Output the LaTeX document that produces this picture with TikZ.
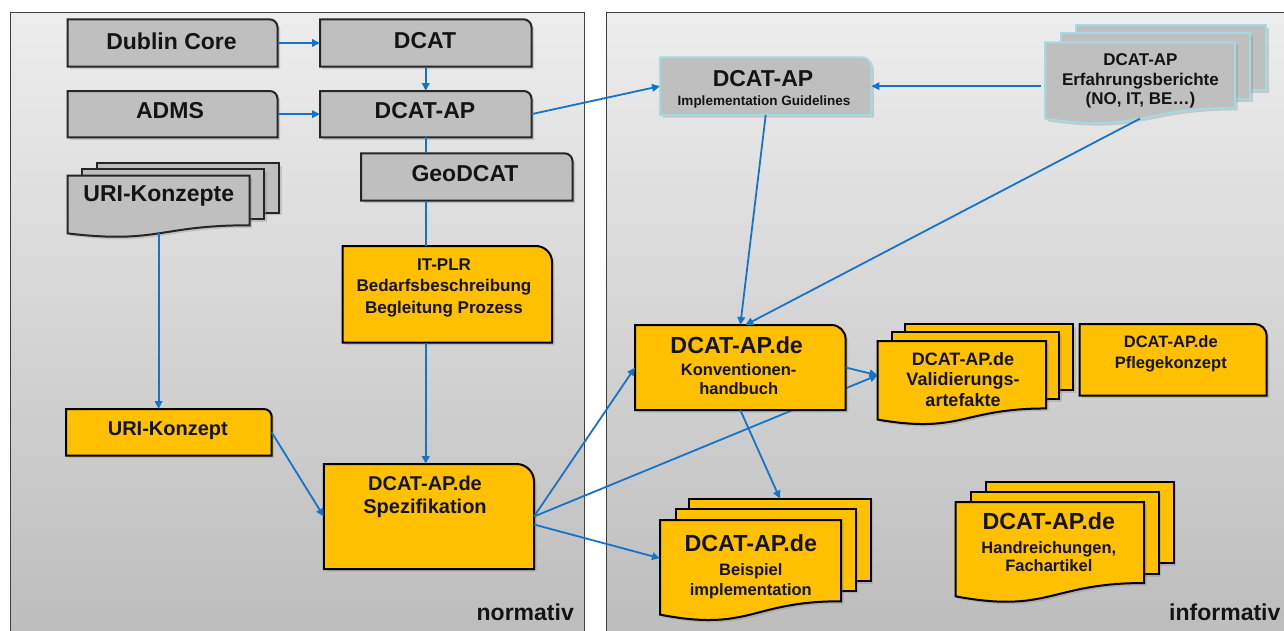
\documentclass[tikz,border=0pt]{standalone}
\usepackage{fontspec}
\setmainfont{Liberation Sans}
\usetikzlibrary{arrows.meta,shadows,fit}
\pgfdeclarelayer{background}
\pgfdeclarelayer{behind}
\pgfdeclarelayer{shapes}
\pgfsetlayers{background,behind,shapes,main}
\definecolor{boxgray}{HTML}{BFBFBF}
\definecolor{myorange}{HTML}{FFC000}
\definecolor{myblue}{RGB}{22,116,200}
\definecolor{mycyan}{HTML}{A6DAE2}
\definecolor{paneltop}{HTML}{EDEDED}
\definecolor{panelbot}{HTML}{BCBCBC}
\newcommand\fs[1]{\fontsize{#1}{#1}\selectfont\bfseries}
\newcommand\mkbox[6]{%
  \node[fit={(#3,#4) (#5,#6)}, inner sep=0pt, outer sep=0pt] (#2) {};
  \pgfmathsetmacro\myR{0.1667*min(#5-#3,#6-#4)}%
  \pgfmathsetmacro\myC{0.448*\myR}%
  \begin{pgfonlayer}{shapes}
  \path[#1] (#2.south west) -- (#2.north west) -- ([xshift=-\myR pt]#2.north east)
    .. controls ([xshift=-\myC pt]#2.north east) and ([yshift=-\myC pt]#2.north east) ..
    ([yshift=-\myR pt]#2.north east) -- (#2.south east) -- cycle;
  \end{pgfonlayer}}
\newcommand\mkpage[6]{%
  \node[fit={(#3,#4) (#5,#6)}, inner sep=0pt, outer sep=0pt] (#2) {};
  \begin{pgfonlayer}{shapes}\path[#1] (#3,#4) rectangle (#5,#6);\end{pgfonlayer}}
\newcommand\mkdoc[6]{%
  \pgfmathsetmacro\mydA{#5+0.802*#6}%
  \pgfmathsetmacro\mydB{#5+1.1075*#6}%
  \pgfmathsetmacro\mydL{#5+0.934*#6}%
  \pgfmathsetmacro\mydS{#5+0.933*#6}%
  \pgfmathsetmacro\mydM{(#3+#4)/2}%
  \node[fit={(#3,#5) (#4,\mydS)}, inner sep=0pt, outer sep=0pt] (#2) {};
  \begin{pgfonlayer}{shapes}\path[#1] (#3,#5) -- (#4,#5) -- (#4,\mydA)
    .. controls (\mydM,\mydA) and (\mydM,\mydB) .. (#3,\mydL) -- cycle;\end{pgfonlayer}}
\begin{document}
\begin{tikzpicture}[x=1pt,y=-1pt,
  shd/.style={drop shadow={shadow xshift=2.5pt,shadow yshift=-2.5pt,opacity=0.3}},
  graybox/.style={fill=boxgray,draw=black!85,line width=2pt,shd},
  orangebox/.style={fill=myorange,draw=black,line width=2pt,shd},
  cyanbox/.style={fill=boxgray,draw=mycyan,line width=2pt,shd},
  conn/.style={draw=myblue,line width=1.8pt},
  arr/.style={conn,-{Triangle[length=8pt,width=7.5pt]}},
  tl/.style={anchor=base,inner sep=0pt,text=black!92},
  panel/.style={top color=paneltop,bottom color=panelbot,draw=black!75,line width=1pt}]
\useasboundingbox (0,0) rectangle (1284,630);
\begin{pgfonlayer}{background}
\fill[white] (0,0) rectangle (1284,630);
\shade[panel] (10,12.7) rectangle (584.3,645);
\shade[panel] (606.7,12.7) rectangle (1300,645);
\end{pgfonlayer}
% boxes
\mkbox{graybox}{dc}{67.7}{19.3}{277.5}{66.7}
\mkbox{graybox}{dcat}{320}{19.3}{531.5}{66.7}
\mkbox{graybox}{adms}{67.7}{91}{277.5}{137.3}
\mkbox{graybox}{dcap}{320}{91}{531.5}{137.3}
\mkbox{graybox}{geo}{361}{153.3}{572.5}{200.7}
\mkbox{orangebox}{itplr}{342.5}{246}{552}{342.7}
\mkbox{orangebox}{uri}{66}{409}{271.7}{455.7}
\mkbox{orangebox}{spez}{323.8}{464}{534}{569}
\mkbox{cyanbox}{guide}{660}{57.3}{871.4}{115}
\mkbox{orangebox}{konv}{635}{325}{845.6}{410}
\mkbox{orangebox}{pflege}{1079.5}{324}{1266.7}{395.7}
% document stacks
\mkpage{graybox}{uris3}{96.8}{163}{279.4}{212.7}
\mkpage{graybox}{uris2}{82}{169.3}{264}{219}
\mkdoc{graybox}{urisfront}{67.7}{249.5}{175.7}{61.8}
\mkpage{cyanbox}{erf3}{1075.6}{25.3}{1266}{90}
\mkpage{cyanbox}{erf2}{1061}{33.3}{1250}{99}
\mkdoc{cyanbox}{erffront}{1045}{1235}{42.3}{81.8}
\mkpage{orangebox}{val3}{904.5}{324}{1073.4}{390}
\mkpage{orangebox}{val2}{891.5}{332}{1059.4}{399}
\mkdoc{orangebox}{valfront}{877.5}{1046}{341}{84.1}
\mkpage{orangebox}{bsp3}{689.4}{498.7}{870.5}{581}
\mkpage{orangebox}{bsp2}{675.5}{509.3}{855.7}{590.7}
\mkdoc{orangebox}{bspfront}{660}{841}{520}{101.3}
\mkpage{orangebox}{hand3}{986}{481.7}{1173.7}{563}
\mkpage{orangebox}{hand2}{970.9}{491.7}{1158.5}{574}
\mkdoc{orangebox}{handfront}{955.6}{1144}{502}{101}
% texts
\node[tl,font={\fs{23}}] (tdc) at (171.5,49) {Dublin Core};
\node[tl,font={\fs{23}}] (tdcat) at (425,48.3) {DCAT};
\node[tl,font={\fs{23}}] (tadms) at (170,118.3) {ADMS};
\node[tl,font={\fs{23}}] (tdcap) at (425,118.3) {DCAT-AP};
\node[tl,font={\fs{23}}] (tgeo) at (465,181.7) {GeoDCAT};
\node[tl,font={\fs{23}}] (turis) at (158.8,201.7) {URI-Konzepte};
\node[tl,font={\fs{17}}] (tit1) at (444,270.7) {IT-PLR};
\node[tl,font={\fs{17}}] (tit2) at (444,291.7) {Bedarfsbeschreibung};
\node[tl,font={\fs{17}}] (tit3) at (444,313) {Begleitung Prozess};
\node[tl,font={\fs{20}}] (turi) at (167.8,435) {URI-Konzept};
\node[tl,font={\fs{20}}] (tspez1) at (425,490) {DCAT-AP.de};
\node[tl,font={\fs{20}}] (tspez2) at (425,513.3) {Spezifikation};
\node[tl,font={\fs{23}}] (tguide1) at (763,86) {DCAT-AP};
\node[tl,font={\fs{13.5}}] (tguide2) at (764,105) {Implementation Guidelines};
\node[tl,font={\fs{17}}] (terf1) at (1140.4,65.7) {DCAT-AP};
\node[tl,font={\fs{17}}] (terf2) at (1140.4,85) {Erfahrungsberichte};
\node[tl,font={\fs{17}}] (terf3) at (1140.4,104.3) {(NO, IT, BE…)};
\node[tl,font={\fs{23.3}}] (tkonv1) at (736.7,353.3) {DCAT-AP.de};
\node[tl,font={\fs{16.5}}] (tkonv2) at (738.7,375) {Konventionen-};
\node[tl,font={\fs{16.5}}] (tkonv3) at (738.7,394) {handbuch};
\node[tl,font={\fs{18}}] (tval1) at (963,365) {DCAT-AP.de};
\node[tl,font={\fs{18}}] (tval2) at (963,385.3) {Validierungs-};
\node[tl,font={\fs{18}}] (tval3) at (963,406) {artefakte};
\node[tl,font={\fs{16.5}}] (tpfl1) at (1170.8,347.7) {DCAT-AP.de};
\node[tl,font={\fs{16.5}}] (tpfl2) at (1170.8,368.3) {Pflegekonzept};
\node[tl,font={\fs{23.3}}] (tbsp1) at (750.8,551) {DCAT-AP.de};
\node[tl,font={\fs{16.5}}] (tbsp2) at (750.8,575.7) {Beispiel};
\node[tl,font={\fs{16.5}}] (tbsp3) at (750.8,595) {implementation};
\node[tl,font={\fs{23.3}}] (thand1) at (1048.8,529.3) {DCAT-AP.de};
\node[tl,font={\fs{16.5}}] (thand2) at (1048.8,553.3) {Handreichungen,};
\node[tl,font={\fs{16.5}}] (thand3) at (1048.8,571.7) {Fachartikel};
\node[tl,anchor=base east,font={\fs{23}}] (tnorm) at (574,620) {normativ};
\node[tl,anchor=base east,font={\fs{23}}] (tinfo) at (1280.6,620) {informativ};
% connectors
\draw[arr] (dc.east) -- (dcat.west);
\draw[arr] (dcat.south) -- (dcap.north);
\draw[arr] (adms.east) -- (dcap.west);
\draw[conn] (dcap.south) -- (geo.north -| dcap.south);
\draw[conn] (geo.south -| dcap.south) -- (itplr.north -| dcap.south);
\draw[arr] (itplr.south -| dcap.south) -- (spez.north -| dcap.south);
\draw[arr] (urisfront.south) -- (uri.north -| urisfront.south);
\draw[arr] (uri.east) -- (spez.west);
\draw[arr] (spez.east) -- (konv.west);
\begin{pgfonlayer}{behind}
\draw[arr] (spez.east) -- ([yshift=5pt]valfront.west);
\end{pgfonlayer}
\draw[arr] (konv.east) -- ([yshift=5pt]valfront.west);
\draw[arr] (konv.south) -- (bsp3.north);
\draw[arr] ([yshift=-8pt]spez.east) -- ([yshift=9pt]bspfront.west);
\draw[arr] (dcap.east) -- (guide.west);
\coordinate (erfstart) at ([xshift=-4pt]erffront.west);
\draw[arr] (erfstart |- guide.east) -- (guide.east);
\draw[arr] (guide.south) -- (konv.north);
\draw[arr] (erffront.south) -- ([xshift=5pt]konv.north);
\end{tikzpicture}
\end{document}
